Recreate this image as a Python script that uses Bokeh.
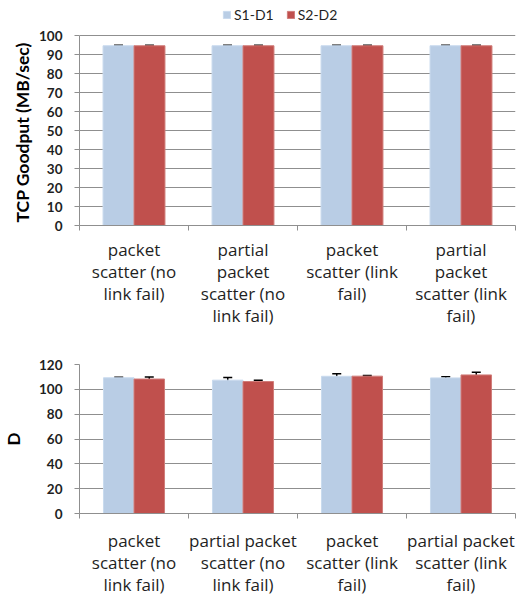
from bokeh.plotting import figure
from bokeh.models import (ColumnDataSource, FixedTicker, Whisker, TeeHead, Legend,
                          LegendItem, Range1d, LinearAxis, Title)
from bokeh.layouts import column
from bokeh.embed import file_html
from bokeh.resources import INLINE

# ---- data ----
series = ["S1-D1", "S2-D2"]
top_labels = ["packet\nscatter (no\nlink fail)", "partial\npacket\nscatter (no\nlink fail)",
              "packet\nscatter (link\nfail)", "partial\npacket\nscatter (link\nfail)"]
bottom_labels = ["packet\nscatter (no\nlink fail)", "partial packet\nscatter (no\nlink fail)",
                 "packet\nscatter (link\nfail)", "partial packet\nscatter (link\nfail)"]
top_s1 = [94.6, 94.6, 94.6, 94.6]
top_s2 = [94.6, 94.6, 94.6, 94.6]
top_s1_err = [0.3, 0.3, 0.3, 0.3]
top_s2_err = [0.3, 0.3, 0.3, 0.3]
bot_s1 = [109.3, 107.4, 110.5, 109.2]
bot_s2 = [108.3, 106.3, 110.6, 111.6]
bot_s1_err = [0.5, 2.1, 2.1, 1.0]
bot_s2_err = [1.6, 1.0, 0.5, 2.2]
top_ticks = list(range(0, 101, 10))
bot_ticks = list(range(0, 121, 20))
top_max = 100
bot_max = 120
top_ylabel = "TCP Goodput (MB/sec)"
bot_ylabel = "D"

C1 = "#B9CDE5"
C2 = "#C0504D"
GRID = "#8f8f8f"
FONT = "Lato"
XFONT = "Open Sans"
TXT = "#1f1f1f"


def make_panel(labels, s1, s2, e1, e2, yticks, ymax, view_max, ylabel, width, height,
               bl, br, bt, bb, bar_w, xstandoff, ystandoff, legend=False,
               title_label=None):
    n = len(labels)
    p = figure(width=width, height=height, output_backend="svg", toolbar_location=None,
               x_range=Range1d(0, n), y_range=Range1d(0, view_max),
               min_border_left=bl, min_border_right=br, min_border_top=bt,
               min_border_bottom=bb, x_axis_location=None, y_axis_location=None)
    p.outline_line_color = None
    p.background_fill_color = "white"
    p.border_fill_color = "white"

    idx = list(range(n))
    x1 = [i + 0.5 - bar_w / 2 for i in idx]
    x2 = [i + 0.5 + bar_w / 2 for i in idx]
    src = ColumnDataSource(dict(
        x1=x1, x2=x2, s1=s1, s2=s2,
        s1lo=[v - e for v, e in zip(s1, e1)], s1hi=[v + e for v, e in zip(s1, e1)],
        s2lo=[v - e for v, e in zip(s2, e2)], s2hi=[v + e for v, e in zip(s2, e2)],
    ))

    p.xgrid.visible = False
    p.ygrid.ticker = FixedTicker(ticks=yticks)
    p.ygrid.grid_line_color = GRID
    p.ygrid.grid_line_width = 1

    r1 = p.vbar(x="x1", top="s1", width=bar_w, bottom=0, source=src,
                fill_color=C1, line_color="#c9daee", line_width=1)
    r2 = p.vbar(x="x2", top="s2", width=bar_w, bottom=0, source=src,
                fill_color=C2, line_color="#d07d7a", line_width=1)

    for base, lo, hi in (("x1", "s1lo", "s1hi"), ("x2", "s2lo", "s2hi")):
        w = Whisker(base=base, lower=lo, upper=hi, source=src,
                    line_color="black", line_width=1.5,
                    upper_head=TeeHead(size=9, line_color="black", line_width=1.5),
                    lower_head=TeeHead(size=9, line_color="black", line_width=1.5))
        p.add_layout(w)

    ya = LinearAxis(ticker=FixedTicker(ticks=yticks), bounds=(0, ymax))
    ya.axis_line_color = GRID
    ya.major_tick_line_color = GRID
    ya.major_tick_out = 5
    ya.major_tick_in = 0
    ya.minor_tick_line_color = None
    ya.major_label_text_font = FONT
    ya.major_label_text_font_size = "13.5px"
    ya.major_label_text_font_style = "bold"
    ya.major_label_text_color = TXT
    ya.major_label_standoff = 12
    if ylabel:
        ya.axis_label = ylabel
        ya.axis_label_text_font = FONT
        ya.axis_label_text_font_size = "17px"
        ya.axis_label_text_font_style = "bold"
        ya.axis_label_text_color = "black"
        ya.axis_label_standoff = ystandoff
    p.add_layout(ya, "left")

    if title_label:
        t = Title(text=title_label, align="left", offset=3, standoff=ystandoff,
                  text_font=FONT, text_font_size="17.5px", text_font_style="bold",
                  text_color="black")
        p.add_layout(t, "left")

    xa = LinearAxis(ticker=FixedTicker(ticks=[i + 0.5 for i in idx],
                                       minor_ticks=list(range(n + 1))))
    xa.major_label_overrides = {i + 0.5: lab for i, lab in zip(idx, labels)}
    xa.axis_line_color = GRID
    xa.major_tick_line_color = None
    xa.major_tick_out = 0
    xa.major_tick_in = 0
    xa.minor_tick_line_color = GRID
    xa.minor_tick_out = 5
    xa.minor_tick_in = 0
    xa.major_label_text_font = XFONT
    xa.major_label_text_font_size = "17px"
    xa.major_label_text_color = TXT
    xa.major_label_standoff = xstandoff
    xa.major_label_text_line_height = 0.97
    p.add_layout(xa, "below")

    if legend:
        lg = Legend(items=[LegendItem(label=series[0], renderers=[r1]),
                           LegendItem(label=series[1], renderers=[r2])],
                    orientation="horizontal", location=(143, 202),
                    glyph_width=9, glyph_height=9, label_standoff=3, spacing=12,
                    padding=0, margin=0, border_line_color=None,
                    background_fill_alpha=0, label_text_font=FONT,
                    label_text_font_size="14px", label_text_color=TXT,
                    label_height=14)
        p.add_layout(lg, "center")
    return p


# top panel frame extends above the 100 line so the legend sits inside it
top = make_panel(top_labels, top_s1, top_s2, top_s1_err, top_s2_err, top_ticks,
                 top_max, top_max * 222 / 190, None, 530, 331,
                 79, 15, 3, 106, 0.284, 7, 8, legend=True, title_label=top_ylabel)
bot = make_panel(bottom_labels, bot_s1, bot_s2, bot_s1_err, bot_s2_err, bot_ticks,
                 bot_max, bot_max, bot_ylabel, 530, 268, 77, 8, 33, 85, 0.28, 10, 12)

layout = column(top, bot, spacing=0)
open("out.html", "w").write(file_html(layout, INLINE))
